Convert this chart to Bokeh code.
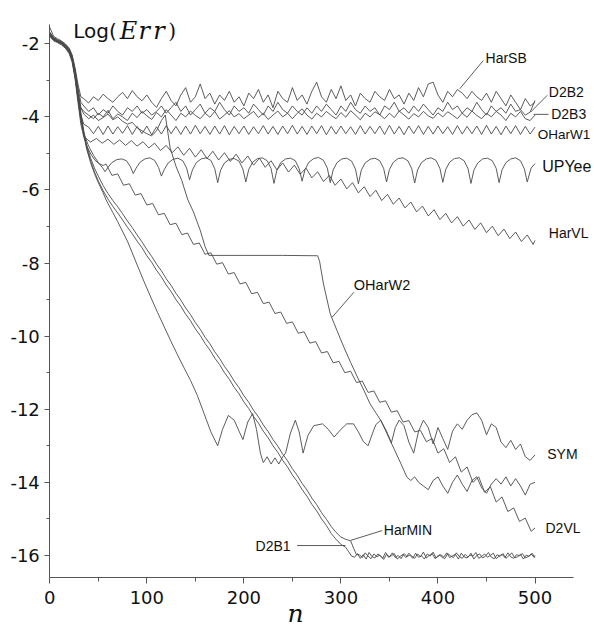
from bokeh.plotting import figure
from bokeh.models import Range1d, FixedTicker, Label
from bokeh.embed import file_html
from bokeh.resources import INLINE

# ---------------- data ----------------
START_N = [0, 4, 8, 12, 16, 20, 23, 26, 29, 32]
STEP5_N = list(range(35, 501, 5))

HARSB_N = START_N + STEP5_N
HARSB_V = [-1.55, -1.80, -1.86, -1.92, -2.00, -2.12, -2.30, -2.65, -3.10, -3.45,
           -3.50, -3.62, -3.45, -3.55, -3.38, -3.50, -3.60, -3.45, -3.33, -3.50,
           -3.28, -3.45, -3.56, -3.40, -3.60, -3.74, -3.50, -3.30, -3.55, -3.70,
           -3.40, -3.20, -3.60, -3.45, -3.10, -3.50, -3.35, -3.65, -3.40, -3.55,
           -3.30, -3.60, -3.45, -3.70, -3.35, -3.50, -3.25, -3.60, -3.40, -3.75,
           -3.30, -3.50, -3.60, -3.20, -3.55, -3.40, -3.65, -3.30, -3.05, -3.45,
           -3.60, -3.25, -3.50, -3.15, -3.55, -3.40, -3.70, -3.35, -3.50, -3.60,
           -3.30, -3.45, -3.55, -3.25, -3.50, -3.40, -3.65, -3.35, -3.55, -3.20,
           -3.45, -3.10, -3.05, -3.40, -3.60, -3.30, -3.45, -3.25, -3.35, -3.50,
           -3.30, -3.45, -3.55, -3.35, -3.60, -3.30, -3.50, -3.70, -3.40, -3.60,
           -3.80, -3.50, -3.70, -3.60]

D2B2_N = START_N + STEP5_N
D2B2_V = [-1.68, -1.84, -1.90, -1.95, -2.03, -2.16, -2.35, -2.72, -3.20, -3.60,
          -3.70, -3.85, -3.75, -3.95, -3.80, -3.90, -3.70, -3.85, -3.95, -3.75,
          -3.85, -3.70, -3.90, -3.80, -3.95, -3.85, -3.70, -3.90, -3.75, -3.60,
          -3.85, -3.70, -3.95, -3.80, -3.65, -3.90, -3.75, -3.85, -3.60, -3.80,
          -3.95, -3.70, -3.85, -3.75, -3.90, -3.65, -3.80, -3.95, -3.70, -3.85,
          -3.60, -3.80, -3.90, -3.70, -3.85, -3.95, -3.75, -3.90, -3.70, -3.85,
          -3.65, -3.80, -3.95, -3.70, -3.85, -3.60, -3.80, -3.90, -3.70, -3.85,
          -3.75, -3.95, -3.70, -3.80, -3.60, -3.85, -3.75, -3.90, -3.70, -3.85,
          -3.65, -3.80, -3.95, -3.75, -3.85, -3.60, -3.80, -3.70, -3.90, -3.75,
          -3.85, -3.60, -3.80, -3.95, -3.70, -3.85, -3.75, -3.90, -3.65, -3.85,
          -3.80, -3.95, -3.87, -3.55]

D2B3_N = START_N + STEP5_N
D2B3_V = [-1.72, -1.88, -1.93, -1.99, -2.08, -2.22, -2.42, -2.85, -3.40, -3.75,
          -3.85, -3.95, -4.05, -3.90, -4.00, -3.82, -4.05, -3.92, -4.00, -4.10,
          -3.90, -4.02, -3.85, -3.97, -4.07, -3.88, -4.00, -3.80, -3.95, -4.10,
          -3.90, -4.00, -3.84, -3.96, -4.05, -3.90, -4.01, -3.85, -4.06, -3.95,
          -3.83, -4.00, -3.91, -4.05, -3.95, -3.85, -4.02, -3.90, -4.07, -3.95,
          -3.84, -4.00, -3.90, -4.05, -3.90, -3.78, -3.95, -4.06, -3.90, -4.00,
          -3.85, -3.96, -4.05, -3.88, -4.01, -3.83, -3.95, -4.08, -3.90, -4.00,
          -3.86, -3.94, -4.05, -3.90, -4.02, -3.84, -3.95, -4.06, -3.91, -4.00,
          -3.85, -3.97, -4.04, -3.89, -4.00, -3.86, -3.95, -4.05, -3.90, -4.01,
          -3.84, -3.96, -4.05, -3.90, -4.00, -3.85, -3.95, -4.10, -3.90, -4.00,
          -3.85, -4.05, -4.10, -3.95]

OHARW1_N = START_N + STEP5_N
OHARW1_V = [-1.74, -1.87, -1.92, -1.98, -2.07, -2.20, -2.42, -2.85, -3.45, -3.95,
            -4.20, -4.28, -4.46, -4.26, -4.48, -4.25, -4.47, -4.27, -4.45, -4.24,
            -4.48, -4.26, -4.46, -4.25, -4.49, -4.27, -4.47, -4.24, -4.46, -4.26,
            -4.48, -4.25, -4.47, -4.23, -4.46, -4.26, -4.48, -4.25, -4.47, -4.24,
            -4.49, -4.26, -4.46, -4.25, -4.48, -4.27, -4.46, -4.24, -4.47, -4.26,
            -4.48, -4.25, -4.46, -4.23, -4.47, -4.26, -4.48, -4.25, -4.46, -4.24,
            -4.49, -4.26, -4.47, -4.25, -4.46, -4.27, -4.48, -4.24, -4.47, -4.26,
            -4.46, -4.25, -4.48, -4.23, -4.47, -4.26, -4.49, -4.25, -4.46, -4.24,
            -4.48, -4.26, -4.47, -4.25, -4.46, -4.27, -4.48, -4.24, -4.47, -4.26,
            -4.46, -4.25, -4.48, -4.23, -4.47, -4.26, -4.49, -4.25, -4.46, -4.24,
            -4.48, -4.26, -4.47, -4.28]

UPYEE_N = START_N + [35, 40, 45, 50, 54,
                     57, 60, 64, 69, 74, 79, 83,
                     86, 89, 93, 98, 103, 108, 112,
                     115, 118, 122, 127, 132, 137, 141,
                     144, 147, 151, 156, 161, 166, 170,
                     173, 176, 180, 185, 190, 195, 199,
                     202, 205, 209, 214, 219, 224, 228,
                     231, 234, 238, 243, 248, 253, 257,
                     260, 263, 267, 272, 277, 282, 286,
                     289, 292, 296, 301, 306, 311, 315,
                     318, 321, 325, 330, 335, 340, 344,
                     347, 350, 354, 359, 364, 369, 373,
                     376, 379, 383, 388, 393, 398, 402,
                     405, 408, 412, 417, 422, 427, 431,
                     434, 437, 441, 446, 451, 456, 460,
                     463, 466, 470, 475, 480, 485, 489,
                     492, 496, 500]
UPYEE_V = [-1.78, -1.90, -1.95, -2.01, -2.10, -2.24, -2.45, -2.90, -3.50, -4.05,
           -4.45, -4.80, -5.05, -5.25, -5.38,
           -5.50, -5.38, -5.25, -5.17, -5.15, -5.20, -5.36,
           -5.55, -5.40, -5.24, -5.15, -5.12, -5.19, -5.38,
           -5.62, -5.44, -5.26, -5.16, -5.13, -5.20, -5.40,
           -5.72, -5.45, -5.25, -5.15, -5.12, -5.19, -5.42,
           -5.80, -5.46, -5.26, -5.16, -5.14, -5.21, -5.43,
           -5.78, -5.44, -5.24, -5.14, -5.12, -5.20, -5.41,
           -5.82, -5.46, -5.25, -5.15, -5.13, -5.20, -5.42,
           -5.76, -5.44, -5.24, -5.14, -5.11, -5.19, -5.40,
           -5.80, -5.45, -5.25, -5.15, -5.13, -5.21, -5.43,
           -5.83, -5.46, -5.26, -5.16, -5.13, -5.20, -5.41,
           -5.78, -5.44, -5.24, -5.14, -5.12, -5.20, -5.42,
           -5.81, -5.45, -5.25, -5.15, -5.12, -5.19, -5.41,
           -5.79, -5.44, -5.24, -5.14, -5.12, -5.20, -5.42,
           -5.82, -5.46, -5.26, -5.15, -5.13, -5.20, -5.41,
           -5.80, -5.45, -5.25, -5.15, -5.12, -5.20, -5.42,
           -5.78, -5.40, -5.28]

HARVL_N = START_N + list(range(36, 499, 6)) + [500]
HARVL_V = [-1.76, -1.88, -1.94, -2.00, -2.09, -2.22, -2.44, -2.88, -3.48, -4.10,
           -4.56, -4.69, -4.59, -4.72, -4.61, -4.75, -4.63, -4.78, -4.65, -4.80,
           -4.68, -4.85, -4.72, -4.92, -4.78, -4.98, -4.82, -5.05, -4.86, -5.10,
           -4.90, -5.14, -4.94, -5.18, -4.98, -5.22, -5.02, -5.26, -5.07, -5.32,
           -5.13, -5.38, -5.20, -5.45, -5.26, -5.51, -5.32, -5.57, -5.40, -5.67,
           -5.50, -5.77, -5.60, -5.87, -5.70, -5.97, -5.80, -6.08, -5.91, -6.18,
           -6.01, -6.29, -6.12, -6.39, -6.22, -6.49, -6.33, -6.60, -6.44, -6.71,
           -6.54, -6.81, -6.64, -6.90, -6.73, -6.99, -6.82, -7.08, -6.90, -7.17,
           -6.99, -7.25, -7.07, -7.33, -7.15, -7.41, -7.23, -7.49, -7.38]

D2VL_N = START_N + [35, 39, 43, 47, 51, 55] + list(range(58, 497, 6)) + [500]
D2VL_V = [-1.80, -1.92, -1.97, -2.03, -2.12, -2.27, -2.50, -2.95, -3.60, -4.20,
          -4.55, -4.85, -5.05, -5.20, -5.28, -5.33,
          -5.29, -5.60, -5.56, -5.87, -5.83, -6.14, -6.10, -6.41, -6.37, -6.68,
          -6.64, -6.95, -6.91, -7.22, -7.18, -7.49, -7.45, -7.76, -7.72, -8.03,
          -7.99, -8.30, -8.26, -8.57, -8.53, -8.84, -8.80, -9.11, -9.07, -9.38,
          -9.34, -9.65, -9.61, -9.92, -9.88, -10.19, -10.15, -10.46, -10.42, -10.73,
          -10.69, -11.00, -10.96, -11.27, -11.23, -11.54, -11.50, -11.81, -11.77, -12.08,
          -12.04, -12.35, -12.31, -12.62, -12.58, -12.89, -12.80, -13.20, -13.08, -13.46,
          -13.30, -13.72, -13.58, -14.00, -13.85, -14.27, -14.12, -14.54, -14.40, -14.80,
          -14.70, -15.07, -14.98, -15.34, -15.25]

OHARW2_N = START_N + [35, 40, 45, 50, 55, 60, 65, 70, 75, 80, 85, 90, 95, 100,
                      105, 110, 115, 119, 124, 130, 136, 142, 148, 155, 160, 164,
                      200, 240, 276, 278, 282, 289, 296, 303, 310, 317, 324, 330,
                      336, 341, 348, 355, 362, 368, 372, 376] + list(range(380, 501, 5))
OHARW2_V = [-1.70, -1.86, -1.92, -1.97, -2.05, -2.18, -2.38, -2.78, -3.30, -3.75,
            -3.92, -4.05, -3.95, -4.10, -4.02, -3.92, -4.08, -4.00, -4.12, -4.20,
            -4.15, -4.30, -4.38, -4.46, -4.52, -4.38, -4.10, -3.95, -4.85, -5.35,
            -5.74, -6.25, -6.60, -7.10, -7.55, -7.79, -7.79, -7.79, -7.80, -7.95,
            -8.57, -9.39, -9.85, -10.30, -10.72, -11.12, -11.50, -11.85, -12.10, -12.30,
            -12.70, -13.10, -13.50, -13.86, -13.95, -13.85,
            -14.00, -14.10, -14.20, -13.95, -13.85, -14.10, -14.30, -14.00, -13.80, -14.05,
            -14.25, -13.95, -13.85, -14.15, -14.30, -14.05, -13.90, -14.05, -13.85, -14.10,
            -13.90, -14.10, -14.35, -14.05, -14.00]

SYM_N = START_N + [35, 38, 42, 46, 50, 55, 58, 65, 70, 80,
                   90, 97, 104, 111, 118, 125, 131, 138, 145, 152,
                   159, 166, 173, 178, 184, 190, 195, 199, 204, 209,
                   213, 217, 220, 224, 228, 232, 236, 240, 243, 248,
                   253, 257, 261, 266, 272, 281, 287, 293, 300, 306,
                   313, 318, 323, 328, 332, 336, 341, 347, 352, 356,
                   360, 365, 370, 375, 380, 385, 390, 395, 400, 405,
                   410, 415, 420, 425, 430, 435, 440, 445, 450, 455,
                   460, 465, 470, 475, 480, 485, 490, 495, 500]
SYM_V = [-1.77, -1.89, -1.93, -1.99, -2.08, -2.20, -2.40, -2.82, -3.42, -4.00,
         -4.47, -4.88, -5.25, -5.55, -5.80, -6.08, -6.27, -6.62, -6.87, -7.40,
         -8.05, -8.50, -8.93, -9.35, -9.75, -10.15, -10.48, -10.85, -11.21, -11.62,
         -12.12, -12.62, -13.00, -12.55, -12.17, -12.30, -12.60, -12.83, -12.35, -12.12,
         -12.55, -13.20, -13.46, -13.30, -13.50, -13.33, -13.50, -13.30, -13.20, -12.65,
         -12.30, -12.62, -13.20, -12.72, -12.45, -12.40, -12.55, -12.76, -12.55, -12.40,
         -12.40, -12.62, -12.88, -13.00, -12.70, -12.42, -12.30, -12.60, -12.92, -12.50,
         -12.30, -12.45, -12.90, -13.20, -12.60, -12.30, -12.50, -12.95, -12.50, -12.80,
         -13.10, -12.60, -12.40, -12.55, -12.30, -12.15, -12.10, -12.30, -12.70, -12.40,
         -12.50, -12.90, -13.05, -12.85, -13.10, -12.95, -13.30, -13.40, -13.25]

D2B1_N = START_N + [35, 38, 42, 46, 50] + list(range(55, 306, 5)) + [308, 311] + list(range(314, 501, 3))
D2B1_V = [-1.73, -1.86, -1.91, -1.96, -2.04, -2.17, -2.37, -2.76, -3.35, -3.95,
          -4.45, -4.85, -5.20, -5.50, -5.75,
          -6.02, -6.25, -6.45, -6.63, -6.82, -7.02, -7.20, -7.40, -7.58, -7.80,
          -7.98, -8.20, -8.38, -8.60, -8.78, -9.00, -9.18, -9.40, -9.58, -9.80,
          -9.98, -10.20, -10.38, -10.60, -10.78, -11.00, -11.18, -11.40, -11.58, -11.80,
          -11.98, -12.20, -12.38, -12.60, -12.78, -13.00, -13.18, -13.40, -13.58, -13.80,
          -13.98, -14.20, -14.38, -14.60, -14.78, -15.00, -15.18, -15.40, -15.56, -15.70,
          -15.78, -15.90, -16.02,
          -16.05, -15.95, -16.08, -15.98, -16.10, -15.92, -16.03, -16.07, -15.96, -16.02,
          -16.11, -15.97, -16.04, -15.93, -16.06, -16.00, -16.09, -15.95, -16.03, -15.99,
          -16.08, -15.94, -16.05, -16.01, -16.10, -15.96, -16.02, -15.91, -16.07, -15.98,
          -16.04, -16.09, -15.95, -16.01, -16.06, -15.93, -16.03, -16.08, -15.97, -16.05,
          -15.94, -16.10, -16.00, -15.96, -16.07, -16.02, -15.92, -16.05, -16.09, -15.98,
          -16.03, -15.95, -16.08, -16.01, -15.93, -16.06, -16.04, -15.97, -16.10, -15.99,
          -16.03, -15.94, -16.06]

HARMIN_N = START_N + [35, 38, 42, 46, 50] + list(range(55, 311, 5)) + [313, 316] + list(range(319, 500, 3)) + [500]
HARMIN_V = [-1.69, -1.83, -1.89, -1.94, -2.02, -2.14, -2.33, -2.70, -3.28, -3.88,
            -4.38, -4.78, -5.12, -5.40, -5.62,
            -5.88, -6.10, -6.29, -6.46, -6.65, -6.85, -7.03, -7.23, -7.42, -7.63,
            -7.82, -8.03, -8.21, -8.43, -8.61, -8.83, -9.01, -9.23, -9.41, -9.63,
            -9.81, -10.03, -10.21, -10.43, -10.61, -10.83, -11.01, -11.23, -11.41, -11.63,
            -11.81, -12.03, -12.21, -12.43, -12.61, -12.83, -13.01, -13.23, -13.41, -13.63,
            -13.81, -14.03, -14.21, -14.43, -14.61, -14.83, -15.01, -15.21, -15.37, -15.50,
            -15.56, -15.60, -15.80, -15.98,
            -15.98, -16.06, -15.93, -16.02, -16.09, -15.96, -16.04, -15.99, -16.08, -15.92,
            -16.05, -16.01, -15.95, -16.10, -16.03, -15.97, -16.06, -15.94, -16.02, -16.08,
            -15.96, -16.04, -15.91, -16.07, -16.00, -15.95, -16.09, -16.03, -15.98, -16.05,
            -15.93, -16.06, -16.01, -15.97, -16.10, -15.94, -16.04, -16.07, -15.99, -16.02,
            -15.92, -16.08, -16.03, -15.96, -16.05, -16.00, -15.94, -16.09, -16.02, -15.97,
            -16.06, -15.93, -16.04, -16.08, -15.98, -16.01, -15.95, -16.07, -16.03, -15.96,
            -16.05, -16.00]

SERIES = [(HARSB_N, HARSB_V), (D2B2_N, D2B2_V), (D2B3_N, D2B3_V), (OHARW1_N, OHARW1_V),
          (UPYEE_N, UPYEE_V), (HARVL_N, HARVL_V), (D2VL_N, D2VL_V), (OHARW2_N, OHARW2_V),
          (SYM_N, SYM_V), (D2B1_N, D2B1_V), (HARMIN_N, HARMIN_V)]

LABEL_TEXT = ["HarSB", "D2B2", "D2B3", "OHarW1", "UPYee", "HarVL", "OHarW2",
              "SYM", "D2VL", "HarMIN", "D2B1"]
LABEL_N = [449.0, 514.2, 516.7, 502.9, 507.4, 514.2, 313.3, 512.6, 510.8, 344.2, 212.0]
LABEL_V = [-2.39, -3.32, -3.92, -4.48, -5.35, -7.18, -8.59, -13.23, -15.26, -15.31, -15.75]
LABEL_SIZE = ["14px", "14px", "14px", "13.5px", "16px", "14px", "14.5px",
              "14px", "14px", "14px", "14px"]

LEADER_N0 = [446.6, 512.6, 513.9, 313.3, 342.5, 254.9]
LEADER_V0 = [-2.46, -3.41, -3.93, -8.80, -15.32, -15.73]
LEADER_N1 = [422.5, 495.4, 498.5, 291.0, 309.9, 304.7]
LEADER_V1 = [-3.23, -3.87, -3.93, -9.48, -15.59, -15.73]

X_TICKS = [0, 100, 200, 300, 400, 500]
X_MINOR = [50, 150, 250, 350, 450]
Y_TICKS = [-16, -14, -12, -10, -8, -6, -4, -2]
Y_MINOR = [-15, -13, -11, -9, -7, -5, -3]
X_SPAN = (0, 540)
Y_SPAN = (-16.6, -1.47)

# ---------------- figure ----------------
# the frame covers the whole canvas; the axes sit at fixed data locations
p = figure(width=594, height=628, title=None,
           x_range=Range1d(-50.8, 561.3), y_range=Range1d(-18.0, -0.815),
           output_backend="svg", toolbar_location=None,
           min_border_left=0, min_border_right=0,
           min_border_top=0, min_border_bottom=0)
p.outline_line_color = None
p.grid.visible = False
p.background_fill_color = "white"
p.border_fill_color = "white"

LINE_COLOR = "#4a4a4a"
for xs, ys in SERIES:
    m = min(len(xs), len(ys))
    p.line(xs[:m], ys[:m], line_color=LINE_COLOR, line_width=0.9)

p.segment(LEADER_N0, LEADER_V0, LEADER_N1, LEADER_V1, line_color=LINE_COLOR, line_width=0.9)

for t, xx, yy, fs in zip(LABEL_TEXT, LABEL_N, LABEL_V, LABEL_SIZE):
    p.add_layout(Label(x=xx, y=yy, text=t, text_font="Liberation Sans",
                       text_font_size=fs, text_color="#111111",
                       text_align="left", text_baseline="middle"))

# axes
AX_COLOR = "#555555"
for ax in (p.xaxis[0], p.yaxis[0]):
    ax.axis_line_color = AX_COLOR
    ax.major_tick_line_color = AX_COLOR
    ax.minor_tick_line_color = AX_COLOR
    ax.major_tick_in = 0
    ax.minor_tick_in = 0
    ax.major_label_text_font = "DejaVu Sans"
    ax.major_label_text_font_size = "18px"
    ax.major_label_text_color = "#111111"

p.xaxis.fixed_location = Y_SPAN[0]
p.yaxis.fixed_location = X_SPAN[0]
p.xaxis.bounds = X_SPAN
p.yaxis.bounds = Y_SPAN
p.xaxis.ticker = FixedTicker(ticks=X_TICKS, minor_ticks=X_MINOR)
p.yaxis.ticker = FixedTicker(ticks=Y_TICKS, minor_ticks=Y_MINOR)
p.yaxis.major_label_overrides = {t: "-" + str(abs(t)) for t in Y_TICKS}
p.xaxis.major_tick_out = 6
p.xaxis.minor_tick_out = 4
p.yaxis.major_tick_out = 5
p.yaxis.minor_tick_out = 3
p.xaxis.major_label_standoff = 8
p.yaxis.major_label_standoff = 5

# axis titles drawn as text
TITLE_Y = -1.655
p.add_layout(Label(x=24.1, y=TITLE_Y, text="Log(", text_font="DejaVu Sans",
                   text_font_size="20px", text_color="#111111",
                   text_align="left", text_baseline="alphabetic"))
for ch, xx in zip(["E", "r", "r"], [72.0, 91.5, 106.5]):
    p.add_layout(Label(x=xx, y=TITLE_Y, text=ch, text_font="DejaVu Serif",
                       text_font_style="italic", text_font_size="24px",
                       text_color="#111111", text_align="left",
                       text_baseline="alphabetic"))
p.add_layout(Label(x=122.0, y=TITLE_Y, text=")", text_font="DejaVu Serif",
                   text_font_size="20px", text_color="#111111",
                   text_align="left", text_baseline="alphabetic"))
p.add_layout(Label(x=244.9, y=-17.6, text="n", text_font="DejaVu Serif",
                   text_font_style="italic", text_font_size="25px",
                   text_color="#111111", text_align="left",
                   text_baseline="alphabetic"))

open("out.html", "w").write(file_html(p, INLINE))
